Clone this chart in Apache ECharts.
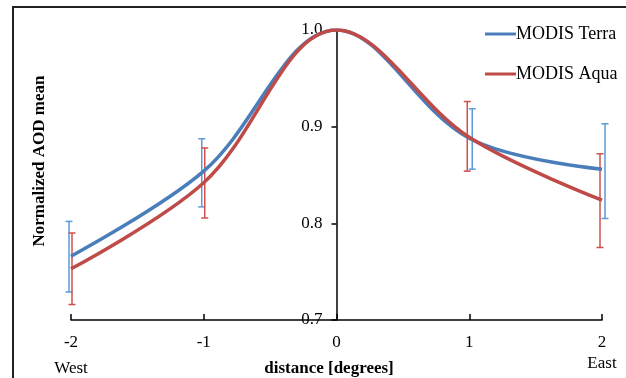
<!DOCTYPE html>
<html>
<head>
<meta charset="utf-8">
<script src="https://cdn.jsdelivr.net/npm/echarts@6/dist/echarts.min.js"></script>
<style>
  html, body { margin: 0; padding: 0; background: #fff; }
  #chart { width: 626px; height: 378px; }
</style>
</head>
<body>
<div id="chart"></div>
<script>
// normalized AOD means at each distance
const distances = [-2, -1, 0, 1, 2]
const terraMean = [0.766, 0.854, 1.0, 0.888, 0.856]
const aquaMean = [0.753, 0.842, 1.0, 0.889, 0.824]

// error bars (no bar at 0)
const errX = [-2, -1, 1, 2]
const terraLow = [0.729, 0.817, 0.856, 0.805]
const terraHigh = [0.802, 0.8875, 0.9185, 0.903]
const aquaLow = [0.716, 0.8055, 0.854, 0.775]
const aquaHigh = [0.790, 0.878, 0.926, 0.872]

const sideLabels = { '-2': 'West', '2': 'East' }

const FONT = 'Liberation Serif'
const BLUE = '#4a7ebb'
const RED = '#be4b48'

const GRID_LEFT = 71
const GRID_RIGHT = 24
const plotWidth = 626 - GRID_LEFT - GRID_RIGHT

const chart = echarts.init(document.getElementById('chart'))

const pair = (xs, ys) => xs.map((x, i) => [x, ys[i]])

const errorBars = (name, low, high, color, shift) => ({
  name: name + ' err',
  type: 'custom',
  silent: true,
  z: 1,
  data: errX.map((x, i) => [x, low[i], high[i]]),
  renderItem: (params, api) => {
    const x = api.value(0)
    const lo = api.coord([x, api.value(1)])
    const hi = api.coord([x, api.value(2)])
    const px = lo[0] + shift(x)
    const cap = 3.5
    const style = { stroke: color, lineWidth: 1.5 }
    return {
      type: 'group',
      children: [
        { type: 'line', shape: { x1: px, y1: hi[1], x2: px, y2: lo[1] }, style },
        { type: 'line', shape: { x1: px - cap, y1: hi[1], x2: px + cap, y2: hi[1] }, style },
        { type: 'line', shape: { x1: px - cap, y1: lo[1], x2: px + cap, y2: lo[1] }, style }
      ]
    }
  }
})

chart.setOption({
  animation: false,
  textStyle: { fontFamily: FONT },
  grid: { left: GRID_LEFT, right: GRID_RIGHT, top: 30, bottom: 58, containLabel: false, outerBoundsMode: 'none' },
  legend: {
    data: [
      { name: 'MODIS Terra', icon: 'rect' },
      { name: 'MODIS Aqua', icon: 'rect' }
    ],
    orient: 'vertical',
    left: 480,
    top: 20,
    itemWidth: 31,
    itemHeight: 3,
    itemGap: 22,
    textStyle: { fontFamily: FONT, fontSize: 18, color: '#000', padding: [0, 0, 0, -5] }
  },
  xAxis: {
    type: 'value',
    min: -2,
    max: 2,
    interval: 1,
    splitLine: { show: false },
    axisLine: { onZero: false, lineStyle: { color: '#000', width: 1.5 } },
    axisTick: { inside: true, length: 6, lineStyle: { color: '#000', width: 1.5 } },
    axisLabel: {
      margin: 13,
      color: '#000',
      fontFamily: FONT,
      fontSize: 17,
      formatter: (v) => {
        const side = sideLabels[String(v)]
        if (!side) return '{v|' + v + '}'
        return '{v|' + v + '}\n{' + (v < 0 ? 'w' : 'e') + '|' + side + '}'
      },
      rich: {
        v: { fontFamily: FONT, fontSize: 17, lineHeight: 20, color: '#000' },
        w: { fontFamily: FONT, fontSize: 17, lineHeight: 32, color: '#000' },
        e: { fontFamily: FONT, fontSize: 17, lineHeight: 22, color: '#000' }
      }
    },
    name: 'distance [degrees]',
    nameLocation: 'middle',
    nameGap: 40,
    nameMoveOverlap: false,
    nameTextStyle: { fontFamily: FONT, fontSize: 17, fontWeight: 'bold', color: '#000', padding: [0, 15, 0, 0] }
  },
  yAxis: {
    type: 'value',
    min: 0.7,
    max: 1.0,
    interval: 0.1,
    offset: -plotWidth / 2,
    splitLine: { show: false },
    axisLine: { onZero: false, lineStyle: { color: '#000', width: 1.5 } },
    axisTick: { length: 5, lineStyle: { color: '#000', width: 1.5 } },
    axisLabel: {
      margin: 14,
      color: '#000',
      fontFamily: FONT,
      fontSize: 17,
      formatter: (v) => v.toFixed(1)
    }
  },
  graphic: [
    {
      type: 'rect',
      shape: { x: 13, y: 7, width: 640, height: 400 },
      style: { fill: 'none', stroke: '#222', lineWidth: 2 },
      silent: true
    },
    {
      type: 'text',
      x: 40,
      y: 161,
      rotation: Math.PI / 2,
      style: {
        text: 'Normalized AOD mean',
        fontFamily: FONT,
        fontSize: 17,
        fontWeight: 'bold',
        fill: '#000',
        align: 'center',
        verticalAlign: 'middle'
      }
    }
  ],
  series: [
    errorBars('MODIS Terra', terraLow, terraHigh, '#5b9bd5', (x) => (x < 0 ? -2 : 3)),
    errorBars('MODIS Aqua', aquaLow, aquaHigh, '#d0504d', (x) => (x < 0 ? 1 : -2)),
    {
      name: 'MODIS Terra',
      type: 'line',
      data: pair(distances, terraMean),
      smooth: 0.36,
      showSymbol: false,
      z: 3,
      lineStyle: { color: BLUE, width: 3.5 },
      itemStyle: { color: BLUE }
    },
    {
      name: 'MODIS Aqua',
      type: 'line',
      data: pair(distances, aquaMean),
      smooth: 0.36,
      showSymbol: false,
      z: 4,
      lineStyle: { color: RED, width: 3.5 },
      itemStyle: { color: RED }
    }
  ]
})
</script>
</body>
</html>
